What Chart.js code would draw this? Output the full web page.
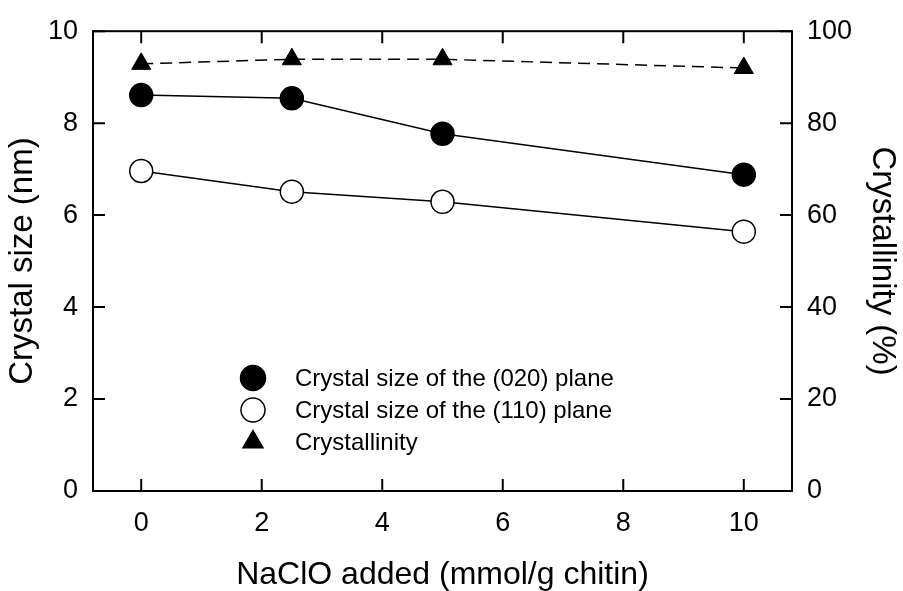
<!DOCTYPE html>
<html>
<head>
<meta charset="utf-8">
<script src="https://cdn.jsdelivr.net/npm/chart.js@4/dist/chart.umd.min.js"></script>
<style>
  html, body { margin: 0; padding: 0; background: #fff; }
  #wrap { width: 903px; height: 591px; position: relative; }
</style>
</head>
<body>
<div id="wrap"><canvas id="c" width="903" height="591"></canvas></div>
<script>
// ---- data ----
const naclo = [0, 2.5, 5, 10];
const size020 = [8.61, 8.54, 7.77, 6.88];
const size110 = [6.96, 6.51, 6.29, 5.64];
const crystallinity = [92.9, 93.9, 93.9, 92.0];
const xTicks = [0, 2, 4, 6, 8, 10];
const yTicks = [0, 2, 4, 6, 8, 10];
const y2Ticks = [0, 20, 40, 60, 80, 100];
const seriesLabels = ['Crystal size of the (020) plane', 'Crystal size of the (110) plane', 'Crystallinity'];

const FONT = '"Liberation Sans", Arial, Helvetica, sans-serif';

const pts = (ys) => naclo.map((x, i) => ({ x: x, y: ys[i] }));

const frameTicks = {
  id: 'frameTicks',
  afterDraw(chart) {
    const { ctx, chartArea: a, scales } = chart;
    ctx.save();
    ctx.strokeStyle = '#000';
    ctx.lineWidth = 2;
    ctx.strokeRect(a.left, a.top, a.right - a.left, a.bottom - a.top);
    const L = 12;
    ctx.beginPath();
    xTicks.forEach(v => {
      const px = scales.x.getPixelForValue(v);
      ctx.moveTo(px, a.bottom); ctx.lineTo(px, a.bottom - L);
      ctx.moveTo(px, a.top); ctx.lineTo(px, a.top + L);
    });
    yTicks.forEach(v => {
      const py = scales.y.getPixelForValue(v);
      ctx.moveTo(a.left, py); ctx.lineTo(a.left + L, py);
    });
    y2Ticks.forEach(v => {
      const py = scales.y2.getPixelForValue(v);
      ctx.moveTo(a.right, py); ctx.lineTo(a.right - L, py);
    });
    ctx.stroke();

    // legend
    const lx = 253, tx = 295, rows = [378, 410, 442];
    ctx.font = '24px ' + FONT;
    ctx.textBaseline = 'middle';
    ctx.textAlign = 'left';
    chart.data.datasets.forEach((ds, i) => {
      const y = rows[i];
      ctx.lineWidth = 1.5;
      ctx.strokeStyle = '#000';
      ctx.fillStyle = ds.pointBackgroundColor;
      ctx.beginPath();
      if (ds.pointStyle === 'triangle') {
        const r = 11.5;
        ctx.moveTo(lx, y - r);
        ctx.lineTo(lx + r * Math.sin(2 * Math.PI / 3), y - r * Math.cos(2 * Math.PI / 3));
        ctx.lineTo(lx + r * Math.sin(4 * Math.PI / 3), y - r * Math.cos(4 * Math.PI / 3));
        ctx.closePath();
      } else {
        ctx.arc(lx, y, i === 0 ? 12.5 : 12, 0, Math.PI * 2);
      }
      ctx.fill();
      ctx.stroke();
      ctx.fillStyle = '#000';
      ctx.fillText(ds.label, tx, y + 1);
    });
    ctx.restore();
  }
};

new Chart(document.getElementById('c'), {
  type: 'scatter',
  data: {
    datasets: [
      {
        label: seriesLabels[0], data: pts(size020), yAxisID: 'y', showLine: true,
        borderColor: '#000', borderWidth: 1.5,
        pointStyle: 'circle', pointRadius: 11.5, pointHoverRadius: 11.5,
        pointBackgroundColor: '#000', pointBorderColor: '#000', pointBorderWidth: 1.5
      },
      {
        label: seriesLabels[1], data: pts(size110), yAxisID: 'y', showLine: true,
        borderColor: '#000', borderWidth: 1.5,
        pointStyle: 'circle', pointRadius: 11.5, pointHoverRadius: 11.5,
        pointBackgroundColor: '#fff', pointBorderColor: '#000', pointBorderWidth: 1.5
      },
      {
        label: seriesLabels[2], data: pts(crystallinity), yAxisID: 'y2', showLine: true,
        borderColor: '#000', borderWidth: 1.5, borderDash: [12, 7],
        pointStyle: 'triangle', pointRadius: 11, pointHoverRadius: 11,
        pointBackgroundColor: '#000', pointBorderColor: '#000', pointBorderWidth: 1
      }
    ]
  },
  options: {
    responsive: false,
    animation: false,
    layout: { padding: { top: 25, left: 0, right: 0, bottom: 0 } },
    plugins: { legend: { display: false }, tooltip: { enabled: false } },
    scales: {
      x: {
        type: 'linear', position: 'bottom', min: -0.8, max: 10.8,
        grid: { display: false, drawTicks: false },
        border: { display: false },
        afterBuildTicks: (s) => { s.ticks = xTicks.map(v => ({ value: v })); },
        afterFit: (s) => { s.height = 100; },
        ticks: { color: '#000', padding: 16, font: { family: FONT, size: 27 } },
        title: { display: true, text: 'NaClO added (mmol/g chitin)', color: '#000',
                 font: { family: FONT, size: 32, lineHeight: 1 }, padding: { top: 0, bottom: 0 } }
      },
      y: {
        type: 'linear', position: 'left', min: 0, max: 10,
        grid: { display: false, drawTicks: false },
        border: { display: false },
        afterBuildTicks: (s) => { s.ticks = yTicks.map(v => ({ value: v })); },
        afterFit: (s) => { s.width = 93; },
        ticks: { color: '#000', padding: 15, font: { family: FONT, size: 27 } },
        title: { display: true, text: 'Crystal size (nm)', color: '#000',
                 font: { family: FONT, size: 33, lineHeight: 1 }, padding: { top: 6, bottom: 0 } }
      },
      y2: {
        type: 'linear', position: 'right', min: 0, max: 100,
        grid: { display: false, drawTicks: false },
        border: { display: false },
        afterBuildTicks: (s) => { s.ticks = y2Ticks.map(v => ({ value: v })); },
        afterFit: (s) => { s.width = 111; },
        ticks: { color: '#000', padding: 15, font: { family: FONT, size: 27 } },
        title: { display: true, text: 'Crystallinity (%)', color: '#000',
                 font: { family: FONT, size: 33, lineHeight: 1 }, padding: { top: 4, bottom: 0 } }
      }
    }
  },
  plugins: [frameTicks]
});
</script>
</body>
</html>
